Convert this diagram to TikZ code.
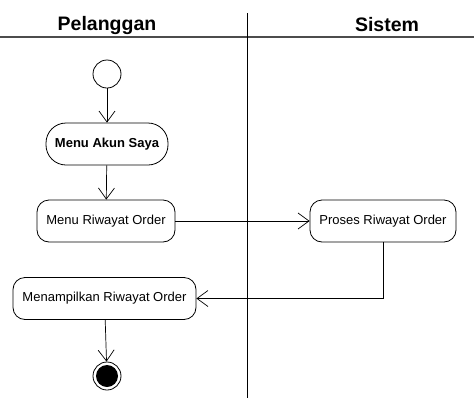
\documentclass[tikz,border=0pt]{standalone}
\usepackage{fontspec}
\setmainfont{Liberation Sans}
\usetikzlibrary{arrows.meta}

\begin{document}
\begin{tikzpicture}[x=1pt,y=-1pt,
  act/.style={shape=rectangle,draw=black,line width=0.8pt,rounded corners=12pt,inner sep=0pt,minimum height=42pt,font=\fontsize{13}{15}\selectfont},
  flow/.style={draw=black,line width=0.7pt,-{Straight Barb[length=11pt,width=16pt,line width=0.7pt]}}]
\useasboundingbox (0,0) rectangle (474,402);
% lanes
\draw[line width=1.2pt,black!70] (0,37) -- (474,37);
\draw[line width=1pt] (247,13) -- (247,398);
\node[font=\fontsize{19.5}{22}\selectfont\bfseries] (lane1) at (107,25) {Pelanggan};
\node[font=\fontsize{19.5}{22}\selectfont\bfseries] (lane2) at (387,25) {Sistem};
% activities
\node[shape=circle,draw=black,line width=0.8pt,minimum size=28pt,inner sep=0pt] (S) at (107,74) {};
\node[act,rounded corners=20pt,minimum width=122pt,font=\fontsize{13}{15}\selectfont\bfseries] (A) at (107,144) {Menu Akun Saya};
\node[act,minimum width=138pt] (B) at (106,221) {Menu Riwayat Order};
\node[act,minimum width=146pt] (C) at (383,221) {Proses Riwayat Order};
\node[act,minimum width=183pt] (D) at (104.5,298.5) {Menampilkan Riwayat Order};
\node[shape=circle,draw=black,line width=0.8pt,minimum size=28pt,inner sep=0pt] (E) at (107,376) {};
\fill[black] (E) circle (11pt);
\path [flow] (S) edge (A);
\path [flow] (A) edge (B);
\path [flow] (B) edge (C);
\path [flow] (C.south) |- (D.east);
\path [flow] (D) edge (E);
\end{tikzpicture}
\end{document}
